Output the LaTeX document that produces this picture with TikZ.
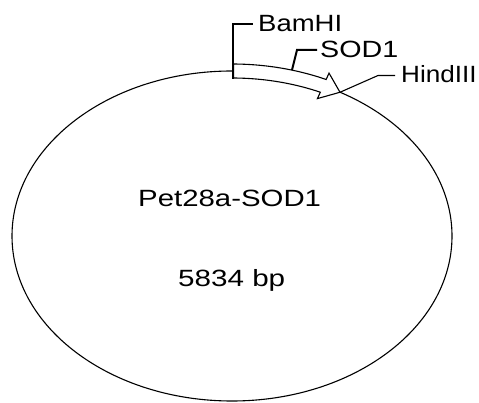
\documentclass[tikz,border=0pt]{standalone}
\usepackage{fontspec}
\setmainfont{Liberation Sans}
\begin{document}
\begin{tikzpicture}[x=1pt,y=-1pt,
  lbl/.style={inner sep=0pt,anchor=base west,font=\fontsize{23.5}{28}\selectfont},
  ctr/.style={inner sep=0pt,anchor=base west,font=\fontsize{23.5}{28}\selectfont},
  thin line/.style={line width=1.1pt,black},
  thick leader/.style={line width=2pt,black}]
\useasboundingbox (0,0) rectangle (479,403);
% plasmid circle (stretched)
\draw[thin line] (232,236) ellipse [x radius=220pt, y radius=165pt];
% SOD1 arrow band
\coordinate (tip) at ({232+220*cos(60.6)},{236-165*sin(60.6)});
\filldraw[thin line,fill=white,line join=miter]
  plot[domain=89.6:65.5,samples=40] ({232+227*cos(\x)},{236-172*sin(\x)})
  -- ({232+234*cos(65.5)},{236-179*sin(65.5)})
  -- (tip)
  -- ({232+206*cos(65.5)},{236-151*sin(65.5)})
  -- plot[domain=65.5:89.6,samples=40] ({232+213*cos(\x)},{236-158*sin(\x)})
  -- cycle;
% labels
\node[ctr] (name) at (138,207) {\scalebox{1.25}[1]{Pet28a-SOD1}};
\node[ctr] (size) at (178,287) {\scalebox{1.26}[1]{5834 bp}};
\node[lbl] (bam) at (258,32) {\scalebox{1.17}[1]{BamHI}};
\node[lbl] (sod) at (320,58) {\scalebox{1.22}[1]{SOD1}};
\node[lbl] (hind) at (401,83) {\scalebox{1.11}[1]{HindIII}};
% leaders
\coordinate (bamS) at (233,79);
\coordinate (sodS) at (292,70);
\coordinate (sodK) at (297,50);
\coordinate (hindK) at (378,75.5);
\draw[thin line] (bamS) |- ([xshift=-5pt]bam.west);
\draw[thick leader,line width=1.6pt] (bamS) -- (233,65);
\draw[thick leader] (sodS) -- (sodK) -- ([xshift=-3pt]sodK -| sod.west);
\draw[thin line] (tip) -- (hindK) -- ([xshift=-6pt]hindK -| hind.west);
\end{tikzpicture}
\end{document}
